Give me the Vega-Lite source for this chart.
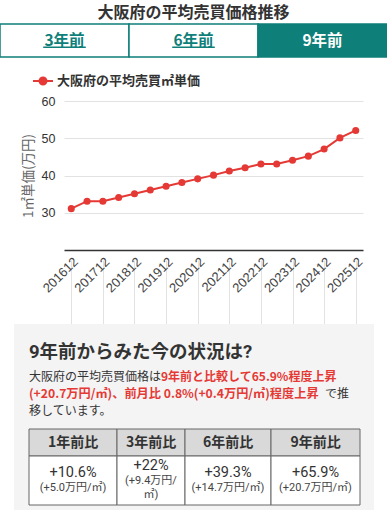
{
  "$schema": "https://vega.github.io/schema/vega-lite/v6.json",
  "width": 387,
  "height": 510,
  "padding": 0,
  "autosize": {"type": "none"},
  "background": "#ffffff",
  "config": {"view": {"stroke": null}, "font": "Noto Sans CJK JP"},
  "datasets": {
    "series": [
      {"m": "201612", "v": 31.1}, {"m": "201706", "v": 33.1}, {"m": "201712", "v": 33.1},
      {"m": "201806", "v": 34.1}, {"m": "201812", "v": 35.1}, {"m": "201906", "v": 36.1},
      {"m": "201912", "v": 37.1}, {"m": "202006", "v": 38.1}, {"m": "202012", "v": 39.1},
      {"m": "202106", "v": 40.1}, {"m": "202112", "v": 41.2}, {"m": "202206", "v": 42.1},
      {"m": "202212", "v": 43.1}, {"m": "202306", "v": 43.1}, {"m": "202312", "v": 44.1},
      {"m": "202406", "v": 45.2}, {"m": "202412", "v": 47.1}, {"m": "202506", "v": 50.1},
      {"m": "202512", "v": 52.1}
    ],
    "tabs": [
      {"tab": "3年前", "sel": 0}, {"tab": "6年前", "sel": 0}, {"tab": "9年前", "sel": 1}
    ],
    "table": [
      {"col": "1年前比", "ci": 0, "lines": ["+10.6%", "(+5.0万円/㎡)"]},
      {"col": "3年前比", "ci": 1, "lines": ["+22%", "(+9.4万円/", "㎡)"]},
      {"col": "6年前比", "ci": 2, "lines": ["+39.3%", "(+14.7万円/㎡)"]},
      {"col": "9年前比", "ci": 3, "lines": ["+65.9%", "(+20.7万円/㎡)"]}
    ]
  },
  "layer": [
    {
      "data": {"values": [{}]},
      "mark": {"type": "text", "x": 193.5, "y": 13, "text": "大阪府の平均売買価格推移", "fontSize": 16, "fontWeight": "bold", "color": "#333333", "align": "center", "baseline": "middle"},
      "encoding": {}
    },
    {
      "data": {"name": "tabs"},
      "mark": {"type": "rect", "stroke": "#0f7f7a", "strokeWidth": 1.5},
      "encoding": {
        "x": {"field": "tab", "type": "nominal", "sort": null, "scale": {"range": [0, 387], "paddingInner": 0, "paddingOuter": 0}, "axis": null},
        "y": {"value": 24},
        "y2": {"value": 57},
        "fill": {"condition": {"test": "datum.sel == 1", "value": "#0f7f7a"}, "value": "#ffffff"}
      }
    },
    {
      "data": {"name": "tabs"},
      "mark": {"type": "text", "fontSize": 15.5, "fontWeight": "bold", "baseline": "middle", "align": "center"},
      "encoding": {
        "x": {"field": "tab", "type": "nominal", "sort": null, "scale": {"range": [0, 387], "paddingInner": 0, "paddingOuter": 0}, "axis": null},
        "y": {"value": 41},
        "text": {"field": "tab"},
        "color": {"condition": {"test": "datum.sel == 1", "value": "#ffffff"}, "value": "#0f7f7a"}
      }
    },
    {
      "data": {"name": "tabs"},
      "transform": [{"filter": "datum.sel == 0"}],
      "mark": {"type": "bar", "color": "#0f7f7a", "width": {"band": 0.33}},
      "encoding": {
        "x": {"field": "tab", "type": "nominal", "sort": null, "scale": {"domain": ["3年前", "6年前", "9年前"], "range": [0, 387], "paddingInner": 0, "paddingOuter": 0}, "axis": null},
        "y": {"value": 46.5},
        "y2": {"value": 48}
      }
    },
    {
      "data": {"name": "series"},
      "mark": {"type": "line", "strokeWidth": 2, "point": {"filled": true, "size": 50, "opacity": 1}},
      "encoding": {
        "x": {
          "field": "m", "type": "ordinal", "sort": null,
          "scale": {"type": "point", "range": [64, 363], "padding": 0.46},
          "axis": {
            "orient": "bottom", "offset": -260, "title": null,
            "values": ["201612", "201712", "201812", "201912", "202012", "202112", "202212", "202312", "202412", "202512"],
            "labelAngle": -45, "labelFont": "Liberation Sans", "labelFontSize": 13, "labelColor": "#444444", "labelPadding": 5,
            "ticks": false, "domainColor": "#333333", "domainWidth": 1.5,
            "grid": true, "gridColor": "#e2e2e2", "gridWidth": 1
          }
        },
        "y": {
          "field": "v", "type": "quantitative",
          "scale": {"domain": [20, 60], "range": [250, 101], "nice": false, "zero": false},
          "axis": {
            "orient": "left", "offset": -64, "values": [30, 40, 50, 60],
            "domain": false, "ticks": false, "labelPadding": 9,
            "labelFont": "Liberation Sans", "labelFontSize": 12.5, "labelColor": "#333333",
            "grid": true, "gridColor": "#e2e2e2", "gridWidth": 1,
            "title": "1㎡単価(万円)", "titleFont": "Noto Sans CJK JP", "titleFontSize": 13.5, "titleFontWeight": "normal", "titleColor": "#666666", "titlePadding": 6
          }
        },
        "color": {
          "datum": "大阪府の平均売買㎡単価",
          "scale": {"range": ["#e53935"]},
          "legend": {
            "orient": "none", "legendX": 32, "legendY": 70, "title": null,
            "labelFont": "Noto Sans CJK JP", "labelFontSize": 13, "labelFontWeight": "bold", "labelColor": "#333333",
            "symbolType": "M-1,0H1M-0.35,0A0.35,0.35,0,1,1,0.35,0A0.35,0.35,0,1,1,-0.35,0Z",
            "symbolSize": 400, "symbolStrokeWidth": 2, "symbolFillColor": "#e53935", "symbolStrokeColor": "#e53935", "labelOffset": 3
          }
        }
      }
    },
    {
      "data": {"values": [{}]},
      "mark": {"type": "rect", "x": 14, "x2": 374, "y": 324, "y2": 512, "fill": "#f4f4f4"},
      "encoding": {}
    },
    {
      "data": {"values": [{}]},
      "mark": {"type": "text", "x": 29, "y": 352, "text": "9年前からみた今の状況は?", "fontSize": 18.5, "fontWeight": "bold", "color": "#333333", "align": "left", "baseline": "middle", "font": "Roboto, Noto Sans CJK JP"},
      "encoding": {}
    },
    {
      "data": {"values": [{}]},
      "mark": {"type": "text", "x": 29, "y": 376.5, "text": "大阪府の平均売買価格は", "fontSize": 12, "color": "#333333", "align": "left", "baseline": "middle"},
      "encoding": {}
    },
    {
      "data": {"values": [{}]},
      "mark": {"type": "text", "x": 161, "y": 376.5, "text": "9年前と比較して65.9%程度上昇", "fontSize": 12, "fontWeight": "bold", "color": "#e53935", "align": "left", "baseline": "middle"},
      "encoding": {}
    },
    {
      "data": {"values": [{}]},
      "mark": {"type": "text", "x": 29, "y": 393.5, "text": "(+20.7万円/㎡)、前月比 0.8%(+0.4万円/㎡)程度上昇", "fontSize": 12.2, "fontWeight": "bold", "color": "#e53935", "align": "left", "baseline": "middle"},
      "encoding": {}
    },
    {
      "data": {"values": [{}]},
      "mark": {"type": "text", "x": 325, "y": 393.5, "text": "で推", "fontSize": 12, "color": "#333333", "align": "left", "baseline": "middle"},
      "encoding": {}
    },
    {
      "data": {"values": [{}]},
      "mark": {"type": "text", "x": 29, "y": 411, "text": "移しています。", "fontSize": 12, "color": "#333333", "align": "left", "baseline": "middle"},
      "encoding": {}
    },
    {
      "data": {"name": "table"},
      "transform": [{"calculate": "datum.ci + 1", "as": "ce"}],
      "mark": {"type": "rect", "fill": "#d9d9d9", "stroke": "#666666", "strokeWidth": 1},
      "encoding": {
        "x": {"field": "ci", "type": "quantitative", "scale": {"domain": [0, 1, 2, 3, 4], "range": [29, 117, 185, 271, 360], "nice": false, "zero": false}, "axis": null},
        "x2": {"field": "ce"},
        "y": {"value": 429},
        "y2": {"value": 456}
      }
    },
    {
      "data": {"name": "table"},
      "transform": [{"calculate": "datum.ci + 1", "as": "ce"}],
      "mark": {"type": "rect", "fill": "#ffffff", "stroke": "#666666", "strokeWidth": 1},
      "encoding": {
        "x": {"field": "ci", "type": "quantitative", "scale": {"domain": [0, 1, 2, 3, 4], "range": [29, 117, 185, 271, 360], "nice": false, "zero": false}, "axis": null},
        "x2": {"field": "ce"},
        "y": {"value": 456},
        "y2": {"value": 505}
      }
    },
    {
      "data": {"name": "table"},
      "transform": [{"calculate": "datum.ci + 0.5", "as": "cm"}],
      "mark": {"type": "text", "fontSize": 14, "fontWeight": "bold", "color": "#333333", "align": "center", "baseline": "middle"},
      "encoding": {
        "x": {"field": "cm", "type": "quantitative", "scale": {"domain": [0, 1, 2, 3, 4], "range": [29, 117, 185, 271, 360], "nice": false, "zero": false}, "axis": null},
        "y": {"value": 443},
        "text": {"field": "col"}
      }
    },
    {
      "data": {"name": "table"},
      "transform": [
        {"flatten": ["lines"], "as": ["txt"]},
        {"window": [{"op": "row_number", "as": "li"}], "groupby": ["col"]},
        {"joinaggregate": [{"op": "count", "as": "n"}], "groupby": ["col"]},
        {"calculate": "datum.li - 1 - (datum.n - 1) / 2", "as": "off"},
        {"calculate": "datum.ci + 0.5", "as": "cm"}
      ],
      "mark": {"type": "text", "align": "center", "baseline": "middle", "font": "Roboto, Noto Sans CJK JP"},
      "encoding": {
        "x": {"field": "cm", "type": "quantitative", "scale": {"domain": [0, 1, 2, 3, 4], "range": [29, 117, 185, 271, 360], "nice": false, "zero": false}, "axis": null},
        "y": {"field": "off", "type": "quantitative", "scale": {"domain": [-1, 1], "range": [466, 495], "nice": false, "zero": false}, "axis": null},
        "text": {"field": "txt"},
        "size": {"condition": {"test": "datum.li == 1", "value": 14.5}, "value": 11},
        "color": {"condition": {"test": "datum.li == 1", "value": "#333333"}, "value": "#444444"}
      }
    }
  ],
  "resolve": {
    "scale": {"x": "independent", "y": "independent", "color": "independent"},
    "axis": {"x": "independent", "y": "independent"}
  }
}
